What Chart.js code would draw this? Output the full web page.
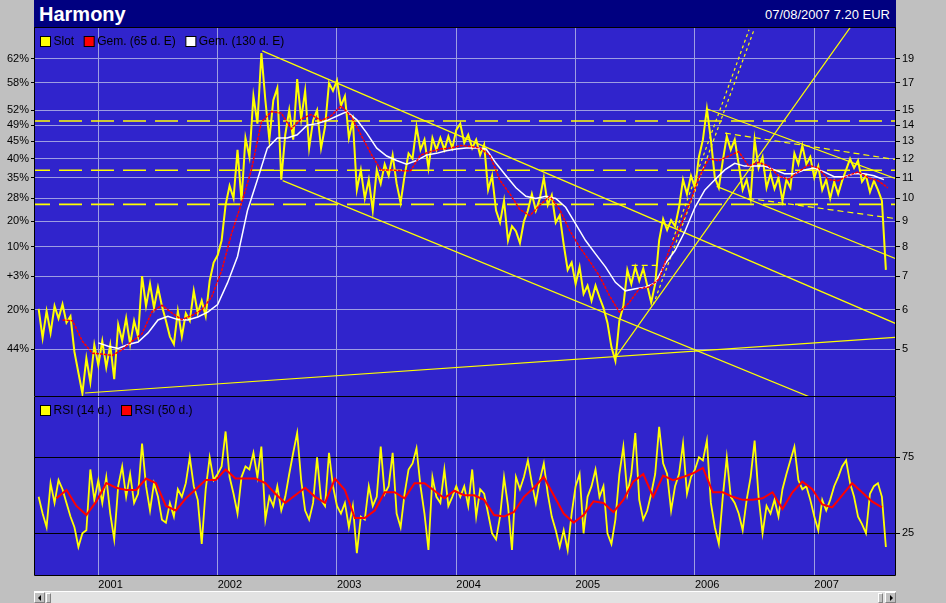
<!DOCTYPE html>
<html>
<head>
<meta charset="utf-8">
<title>Harmony</title>
<script src="https://cdn.jsdelivr.net/npm/chart.js@4.4.0/dist/chart.umd.min.js"></script>
<style>
    html, body { margin: 0; padding: 0; background: #c0c0c0; }
    body { width: 946px; height: 603px; position: relative; overflow: hidden; font-family: "Liberation Sans", Arial, sans-serif; }
    #titlebar { position: absolute; left: 34px; top: 0; width: 862px; height: 28px; box-sizing: border-box; background: #000080; border-bottom: 1px solid #000; color: #fff; }
    #titlebar .name { position: absolute; left: 5px; top: 4px; font-size: 20px; line-height: 20px; font-weight: bold; }
    #titlebar .quote { position: absolute; right: 6px; top: 8px; font-size: 13px; line-height: 13px; }
    #priceChart { position: absolute; left: 0; top: 28px; }
    #rsiChart { position: absolute; left: 0; top: 397px; }
    #scrollbar { position: absolute; left: 34px; top: 591px; width: 862px; height: 12px; box-sizing: border-box; background: #e2e2e2; border-top: 1px solid #fff; }
    #scrollbar .btn { position: absolute; top: 0; width: 11px; height: 11px; box-sizing: border-box; background: #c0c0c0; border: 1px solid; border-color: #fff #808080 #808080 #fff; }
    #scrollbar .btn.left { left: 0; }
    #scrollbar .btn.right { right: 0; }
    #scrollbar .arrow { position: absolute; top: 2px; width: 0; height: 0; border-top: 3px solid transparent; border-bottom: 3px solid transparent; }
    #scrollbar .left .arrow { left: 3px; border-right: 3px solid #000; }
    #scrollbar .right .arrow { left: 4px; border-left: 3px solid #000; }
    #scrollbar .thumb { position: absolute; top: 1px; width: 3px; height: 8px; background: #c0c0c0; border: 1px solid; border-color: #fff #808080 #808080 #fff; }
</style>
</head>
<body>
<div id="titlebar"><span class="name">Harmony</span><span class="quote">07/08/2007 7.20 EUR</span></div>
<canvas id="priceChart" width="946" height="369"></canvas>
<canvas id="rsiChart" width="946" height="192"></canvas>
<div id="scrollbar">
    <div class="btn left"><div class="arrow"></div></div>
    <div class="thumb" style="left:12px"></div>
    <div class="thumb" style="left:844px"></div>
    <div class="btn right"><div class="arrow"></div></div>
</div>
<script>
// x axis is in decimal years
const X_MIN = 2000.4695;
const X_MAX = 2007.6764;
const yearTicks = [2001, 2002, 2003, 2004, 2005, 2006, 2007];

// price axis (log) and the left-hand percentage labels
const PRICE_MIN = 4.034;
const PRICE_MAX = 21.88;
const priceTicks = [5, 6, 7, 8, 9, 10, 11, 12, 13, 14, 15, 17, 19];
const pctLabels = ['44%', '20%', '+3%', '10%', '20%', '28%', '35%', '40%', '45%', '49%', '52%', '58%', '62%'];

// RSI axis
const RSI_MIN = -2.43;
const RSI_MAX = 114.67;
const rsiTicks = [25, 75];

// Slot (closing price), 30 samples per year
const slot2000 = [6.02, 5.27, 5.96, 5.39, 6.1, 5.76, 6.15, 5.65, 5.82, 4.94, 4.49, 4.08, 4.8, 4.3, 5.1];
const slot2001 = [4.65, 5.19, 4.6, 5.1, 4.36, 5.6, 5.2, 5.77, 5.12, 5.7, 5.3, 7.0, 6.1, 6.75, 6.05, 6.65, 6.1, 5.7, 5.3, 5.12, 5.96, 5.3, 5.9, 5.7, 6.54, 5.9, 6.25, 5.82, 6.85, 7.45];
const slot2002 = [7.7, 8.24, 9.7, 10.6, 10.0, 12.5, 9.9, 13.2, 12.1, 16.0, 14.1, 19.5, 15.7, 13.1, 15.7, 16.6, 10.9, 13.4, 15.0, 13.1, 17.3, 14.4, 16.4, 12.6, 14.3, 15.0, 12.6, 13.9, 17.0, 16.4];
const slot2003 = [17.2, 15.3, 16.0, 13.2, 14.3, 10.4, 11.4, 10.0, 10.9, 9.46, 11.4, 10.7, 11.7, 11.1, 12.2, 10.7, 9.8, 11.1, 12.3, 12.0, 13.9, 12.5, 13.1, 11.5, 13.2, 12.5, 13.2, 12.5, 13.3, 12.6];
const slot2004 = [13.7, 14.1, 12.9, 13.4, 12.6, 13.1, 12.2, 12.8, 10.4, 11.1, 9.46, 8.95, 9.9, 8.24, 8.8, 8.6, 8.15, 9.0, 9.46, 10.2, 9.46, 10.0, 11.0, 9.7, 10.15, 8.95, 9.25, 8.1, 7.2, 7.45];
const slot2005 = [6.75, 7.3, 6.45, 6.7, 6.25, 6.7, 6.35, 6.05, 5.65, 5.05, 4.74, 5.7, 6.1, 7.2, 6.75, 7.3, 6.85, 7.25, 6.7, 6.2, 6.75, 8.25, 9.1, 8.65, 9.05, 8.8, 9.6, 10.9, 10.2, 11.1];
const slot2006 = [10.5, 12.1, 13.1, 15.1, 13.1, 11.0, 10.5, 11.9, 13.3, 12.5, 13.1, 11.7, 10.4, 10.9, 10.0, 13.1, 11.5, 12.1, 10.5, 11.2, 10.45, 11.0, 9.9, 10.9, 10.5, 12.3, 11.7, 12.75, 11.7, 12.1];
const slot2007 = [11.0, 11.6, 10.4, 10.9, 10.0, 10.8, 10.2, 10.85, 11.4, 12.0, 11.5, 11.9, 10.8, 11.1, 10.3, 10.85, 10.4, 9.9, 7.2];

// moving averages, monthly samples
const gem65Start = 2000.7;
const gem65 = [5.72, 5.70, 5.19, 4.91, 4.89, 4.86, 4.99, 5.19, 5.37, 5.94, 6.12, 5.91, 5.73, 5.84, 5.99, 6.36, 7.17, 8.51, 9.79, 11.41,
    14.2, 14.9, 14.8, 13.77, 14.4, 14.7, 14.3, 14.6, 15.3, 14.6, 13.4, 12.3, 11.4, 11.4, 11.35, 11.35, 12.2, 12.4, 12.55, 12.6,
    12.75, 12.7, 12.6, 12.15, 10.86, 10.2, 9.5, 9.24, 9.7, 10.1, 9.5, 8.63, 8.0, 7.5, 7.0, 6.4, 5.93, 6.2, 6.6, 6.66,
    6.9, 7.87, 8.67, 9.7, 11.0, 12.0, 11.9, 12.15, 12.4, 11.6, 11.8, 11.6, 11.1, 10.9, 11.3, 11.65, 11.5, 10.9, 10.85, 11.1,
    11.3, 11.0, 10.85, 10.5];
const gem130Start = 2001.0;
const gem130 = [5.15, 5.07, 5.02, 5.11, 5.17, 5.39, 5.72, 5.82, 5.73, 5.72, 5.8, 5.93, 6.14, 6.79, 7.66, 9.46, 10.9, 12.6, 13.2, 13.2,
    13.4, 14.0, 14.1, 14.3, 14.6, 14.9, 14.35, 13.5, 12.6, 12.15, 11.9, 11.7, 11.9, 12.2, 12.3, 12.45, 12.55, 12.6, 12.6, 12.55,
    11.75, 11.1, 10.5, 10.1, 10.0, 10.1, 10.0, 9.6, 8.9, 8.24, 7.75, 7.3, 6.8, 6.54, 6.6, 6.65, 6.78, 7.4, 7.87, 8.6,
    9.6, 10.4, 10.9, 11.4, 11.75, 11.6, 11.6, 11.6, 11.4, 11.2, 11.2, 11.4, 11.5, 11.3, 11.05, 11.05, 11.2, 11.2, 11.1, 10.9];

// RSI 14 d., 30 samples per year
const rsi2000 = [49, 38, 29, 58, 45, 60, 54, 45, 36, 29, 16, 25, 27, 67, 47];
const rsi2001 = [60, 45, 62, 38, 21, 56, 69, 49, 64, 45, 51, 84, 56, 40, 58, 49, 34, 32, 45, 36, 54, 49, 58, 75, 56, 47, 18, 54, 75, 60];
const rsi2002 = [64, 69, 92, 62, 51, 38, 62, 69, 67, 78, 62, 82, 34, 49, 43, 56, 40, 49, 64, 78, 91, 60, 40, 34, 45, 75, 47, 43, 78, 56];
const rsi2003 = [43, 38, 45, 29, 43, 12, 36, 34, 56, 43, 49, 82, 51, 56, 78, 38, 29, 51, 67, 71, 81, 56, 38, 14, 62, 49, 45, 67, 43, 49];
const rsi2004 = [56, 49, 56, 43, 67, 36, 54, 51, 38, 25, 21, 36, 62, 43, 14, 62, 54, 62, 73, 58, 45, 60, 71, 51, 36, 27, 16, 27, 14, 38];
const rsi2005 = [56, 64, 25, 49, 56, 67, 49, 56, 25, 18, 34, 64, 82, 51, 64, 91, 47, 34, 40, 51, 64, 95, 71, 64, 40, 56, 64, 84, 51, 62];
const rsi2006 = [67, 75, 73, 86, 45, 29, 18, 49, 75, 49, 45, 38, 27, 47, 62, 86, 49, 25, 43, 38, 47, 36, 54, 64, 73, 82, 60, 54, 56, 47];
const rsi2007 = [36, 27, 47, 40, 47, 56, 62, 69, 73, 58, 49, 36, 31, 25, 51, 56, 58, 49, 16];

// RSI 50 d., monthly samples
const rsi50Start = 2000.65;
const rsi50 = [48, 53.5, 43, 37, 46, 58, 55, 53.5, 53.5, 61, 58, 43, 40, 48, 54, 60, 60, 67, 61, 61,
    61, 58, 51, 45, 50, 55, 49, 45, 61, 53.5, 35, 35, 40, 52, 52, 48, 58, 58, 53, 48,
    53, 50, 50, 47, 37, 36, 39, 49, 55, 62, 50, 38, 32, 37, 46, 45, 39, 47, 59, 64,
    49, 63, 60, 62, 64.5, 68, 52, 52, 49, 47, 47, 48, 52, 41, 52, 59, 54, 44, 42, 50,
    58, 52, 46, 42];

// drawn trend lines, [year, price] end points
const trendSolid = [
    [[2002.374, 19.7], [2007.68, 5.63]],
    [[2002.545, 10.85], [2006.98, 4.0]],
    [[2000.889, 4.09], [2007.68, 5.28]],
    [[2005.33, 4.80], [2007.45, 24.6]],
    [[2006.098, 15.1], [2007.685, 10.95]],
    [[2006.182, 10.57], [2007.685, 7.58]],
    [[2002.271, 11.38], [2002.548, 11.38]],
    [[2002.003, 9.73], [2002.187, 9.73]]
];
const trendDashed = [
    [[2006.252, 13.5], [2007.685, 11.95]],
    [[2006.447, 10.0], [2007.685, 9.11]],
    [[2005.47, 7.35], [2005.693, 7.35]]
];
const trendDotted = [
    [[2005.651, 6.14], [2006.495, 21.7]],
    [[2005.814, 8.26], [2006.453, 21.7]]
];
const levels = [14.27, 11.38, 9.73];

const BLUE = '#3024cc';
const GRID = '#9e9ee2';

Chart.defaults.font.family = '"Liberation Sans", Arial, sans-serif';
Chart.defaults.font.size = 11;
Chart.defaults.color = '#000';

function toPoints(start, perYear, values) {
    return values.map((v, i) => ({ x: start + i / perYear, y: v }));
}

const slotPoints = [
    ...toPoints(2000.5, 30, slot2000), ...toPoints(2001, 30, slot2001), ...toPoints(2002, 30, slot2002),
    ...toPoints(2003, 30, slot2003), ...toPoints(2004, 30, slot2004), ...toPoints(2005, 30, slot2005),
    ...toPoints(2006, 30, slot2006), ...toPoints(2007, 30, slot2007)
];
const rsi14Points = [
    ...toPoints(2000.5, 30, rsi2000), ...toPoints(2001, 30, rsi2001), ...toPoints(2002, 30, rsi2002),
    ...toPoints(2003, 30, rsi2003), ...toPoints(2004, 30, rsi2004), ...toPoints(2005, 30, rsi2005),
    ...toPoints(2006, 30, rsi2006), ...toPoints(2007, 30, rsi2007)
];

const segment = (seg, dash, offset, width) => ({
    data: seg.map(p => ({ x: p[0], y: p[1] })),
    borderColor: '#ffff00',
    borderWidth: width || 1.2,
    borderDash: dash || [],
    borderDashOffset: offset || 0,
    order: 10
});

// fixed axis sizes, and no extra room for the end labels
const fixWidth = w => s => { s.width = w; s.paddingTop = 0; s.paddingBottom = 0; };

// blue plot area, black frame and the little legend in the top-left corner
const panel = {
    id: 'panel',
    beforeDraw(chart) {
        const { ctx, chartArea: a } = chart;
        ctx.save();
        ctx.fillStyle = BLUE;
        ctx.fillRect(a.left, a.top, a.right - a.left, a.bottom - a.top);
        ctx.restore();
    },
    afterDraw(chart, args, opts) {
        const { ctx, chartArea: a } = chart;
        ctx.save();
        ctx.strokeStyle = '#000';
        ctx.lineWidth = 1;
        ctx.beginPath();
        ctx.moveTo(a.left - 0.5, a.top);
        ctx.lineTo(a.left - 0.5, a.bottom + 0.5);
        ctx.lineTo(a.right + 0.5, a.bottom + 0.5);
        ctx.lineTo(a.right + 0.5, a.top);
        ctx.stroke();

        ctx.font = '12px "Liberation Sans", Arial, sans-serif';
        ctx.textBaseline = 'middle';
        let x = a.left + 5.5;
        const y = a.top + 8.5;
        opts.items.forEach(item => {
            ctx.fillStyle = item.color;
            ctx.fillRect(x, y, 10, 10);
            ctx.strokeStyle = '#000';
            ctx.strokeRect(x, y, 10, 10);
            ctx.fillStyle = '#000';
            ctx.fillText(item.label, x + 13, y + 5);
            x += 13 + ctx.measureText(item.label).width + 10;
        });
        ctx.restore();
    }
};

const xScale = (showLabels) => ({
    type: 'linear',
    min: X_MIN,
    max: X_MAX,
    afterBuildTicks: axis => { axis.ticks = yearTicks.map(v => ({ value: v })); },
    ticks: {
        display: showLabels,
        align: 'start',
        autoSkip: false,
        maxRotation: 0,
        padding: 3,
        callback: v => String(v)
    },
    grid: { color: GRID, drawTicks: false },
    border: { display: false },
    afterFit: s => { s.height = showLabels ? 14 : 1; s.paddingLeft = 0; s.paddingRight = 0; }
});

new Chart(document.getElementById('priceChart'), {
    type: 'line',
    data: {
        datasets: [
            { label: 'Gem. (65 d. E)', data: toPoints(gem65Start, 12, gem65), borderColor: '#ff0000', borderWidth: 1.5, borderDash: [3, 1], order: 1 },
            { label: 'Gem. (130 d. E)', data: toPoints(gem130Start, 12, gem130), borderColor: '#ffffff', borderWidth: 1.5, order: 2 },
            { label: 'Slot', data: slotPoints, borderColor: '#ffff00', borderWidth: 2, order: 3 },
            ...levels.map(v => segment([[X_MIN, v], [X_MAX, v]], [23, 9], 8, 1.6)),
            ...trendSolid.map(s => segment(s)),
            ...trendDashed.map(s => segment(s, [6, 4])),
            ...trendDotted.map(s => segment(s, [3, 3]))
        ]
    },
    options: {
        responsive: false,
        animation: false,
        devicePixelRatio: 1,
        parsing: false,
        elements: { point: { radius: 0 }, line: { tension: 0 } },
        layout: { padding: 0, autoPadding: false },
        plugins: {
            legend: { display: false },
            tooltip: { enabled: false },
            panel: {
                items: [
                    { label: 'Slot', color: '#ffff00' },
                    { label: 'Gem. (65 d. E)', color: '#ff0000' },
                    { label: 'Gem. (130 d. E)', color: '#ffffff' }
                ]
            }
        },
        scales: {
            x: xScale(false),
            yl: {
                type: 'logarithmic',
                position: 'left',
                min: PRICE_MIN,
                max: PRICE_MAX,
                afterBuildTicks: axis => { axis.ticks = priceTicks.map(v => ({ value: v })); },
                ticks: { padding: 2, autoSkip: false, callback: v => pctLabels[priceTicks.indexOf(v)] },
                grid: { drawOnChartArea: false, tickColor: '#000', tickLength: 4 },
                border: { display: false },
                afterFit: fixWidth(35)
            },
            y: {
                type: 'logarithmic',
                position: 'right',
                min: PRICE_MIN,
                max: PRICE_MAX,
                afterBuildTicks: axis => { axis.ticks = priceTicks.map(v => ({ value: v })); },
                ticks: { padding: 2, autoSkip: false, callback: v => String(v) },
                grid: { color: GRID, tickColor: '#000', tickLength: 5 },
                border: { display: false },
                afterFit: fixWidth(51)
            }
        }
    },
    plugins: [panel]
});

new Chart(document.getElementById('rsiChart'), {
    type: 'line',
    data: {
        datasets: [
            { label: 'RSI (50 d.)', data: toPoints(rsi50Start, 12, rsi50), borderColor: '#ff0000', borderWidth: 2, order: 1 },
            { label: 'RSI (14 d.)', data: rsi14Points, borderColor: '#ffff00', borderWidth: 1.8, order: 2 }
        ]
    },
    options: {
        responsive: false,
        animation: false,
        devicePixelRatio: 1,
        parsing: false,
        elements: { point: { radius: 0 }, line: { tension: 0 } },
        layout: { padding: 0, autoPadding: false },
        plugins: {
            legend: { display: false },
            tooltip: { enabled: false },
            panel: {
                items: [
                    { label: 'RSI (14 d.)', color: '#ffff00' },
                    { label: 'RSI (50 d.)', color: '#ff0000' }
                ]
            }
        },
        scales: {
            x: xScale(true),
            yl: {
                position: 'left',
                min: RSI_MIN,
                max: RSI_MAX,
                ticks: { display: false },
                grid: { display: false },
                border: { display: false },
                afterFit: fixWidth(35)
            },
            y: {
                position: 'right',
                min: RSI_MIN,
                max: RSI_MAX,
                afterBuildTicks: axis => { axis.ticks = rsiTicks.map(v => ({ value: v })); },
                ticks: { padding: 2, callback: v => String(v) },
                grid: { color: '#000', tickColor: '#000', tickLength: 5 },
                border: { display: false },
                afterFit: fixWidth(51)
            }
        }
    },
    plugins: [panel]
});
</script>
</body>
</html>
